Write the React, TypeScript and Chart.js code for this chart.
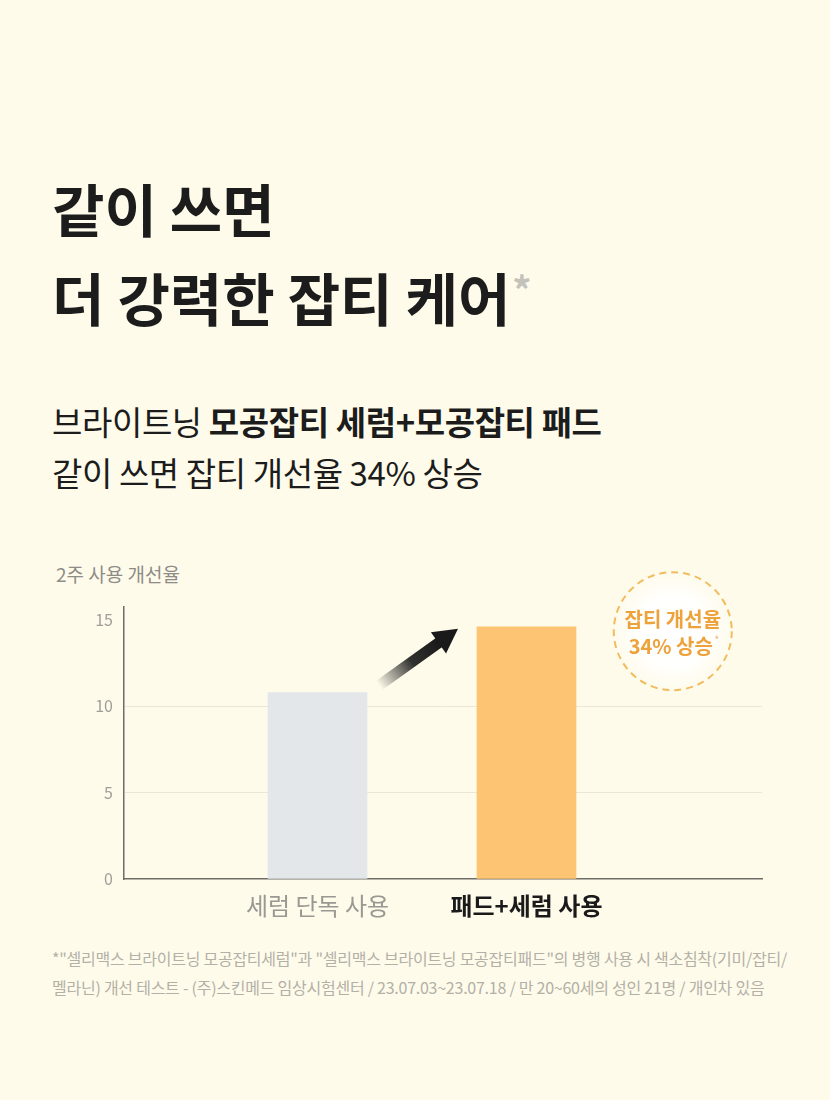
import React, { useEffect, useRef } from "react";
import { Chart, registerables } from "chart.js";

Chart.register(...registerables);

const categories: string[] = ["세럼 단독 사용", "패드+세럼 사용"];
const improvement: number[] = [10.8, 14.6];
const barColors: string[] = ["#e4e7ea", "#fcc473"];
const yTicks: number[] = [0, 5, 10, 15];
const badgeLines: string[] = ["잡티 개선율", "34% 상승"];

const FONT = '"Noto Sans CJK KR", "Noto Sans", sans-serif';
const BG = "#fefbeb";

const decorPlugin = {
  id: "decor",
  afterDatasetsDraw(chart: any) {
    const ctx = chart.ctx;
    const meta = chart.getDatasetMeta(0);
    const b0 = meta.data[0];
    const b1 = meta.data[1];
    if (!b0 || !b1) return;
    // arrow
    const x0 = b0.x + b0.width / 2 + 12;
    const y0 = b0.y - 7;
    const x1 = b1.x - b1.width / 2 - 19;
    const y1 = b1.y + 2;
    const ang = Math.atan2(y1 - y0, x1 - x0);
    const headLen = 24;
    const hx = x1 - Math.cos(ang) * headLen;
    const hy = y1 - Math.sin(ang) * headLen;
    ctx.save();
    const g = ctx.createLinearGradient(x0, y0, hx, hy);
    g.addColorStop(0, "rgba(26,26,26,0)");
    g.addColorStop(0.55, "rgba(26,26,26,0.9)");
    g.addColorStop(1, "rgba(26,26,26,1)");
    ctx.strokeStyle = g;
    ctx.lineWidth = 11;
    ctx.lineCap = "butt";
    ctx.beginPath();
    ctx.moveTo(x0, y0);
    ctx.lineTo(hx + Math.cos(ang) * 2, hy + Math.sin(ang) * 2);
    ctx.stroke();
    ctx.fillStyle = "#1a1a1a";
    const w = 13;
    ctx.beginPath();
    ctx.moveTo(x1, y1);
    ctx.lineTo(hx + Math.cos(ang + Math.PI / 2) * w, hy + Math.sin(ang + Math.PI / 2) * w);
    ctx.lineTo(hx + Math.cos(ang - Math.PI / 2) * w, hy + Math.sin(ang - Math.PI / 2) * w);
    ctx.closePath();
    ctx.fill();
    ctx.restore();

    // badge
    const xs = chart.scales.x;
    const ys = chart.scales.y;
    const cx = xs.getPixelForValue(2.7);
    const cy = ys.getPixelForValue(14.35);
    const r = 59;
    ctx.save();
    const rg = ctx.createRadialGradient(cx, cy, 0, cx, cy, r);
    rg.addColorStop(0, "rgba(255,255,255,1)");
    rg.addColorStop(0.6, "rgba(255,255,255,0.9)");
    rg.addColorStop(1, "rgba(255,253,245,0.3)");
    ctx.fillStyle = rg;
    ctx.beginPath();
    ctx.arc(cx, cy, r, 0, Math.PI * 2);
    ctx.fill();
    ctx.setLineDash([7, 5]);
    ctx.lineWidth = 2;
    ctx.strokeStyle = "#f2bc5e";
    ctx.stroke();
    ctx.setLineDash([]);
    ctx.fillStyle = "#eea23c";
    ctx.font = `700 20px ${FONT}`;
    ctx.textAlign = "center";
    ctx.textBaseline = "middle";
    ctx.fillText(badgeLines[0], cx, cy - 12);
    ctx.fillText(badgeLines[1], cx - 2, cy + 15);
    const tw = ctx.measureText(badgeLines[1]).width;
    ctx.fillStyle = "#e9b98a";
    ctx.font = `400 11px ${FONT}`;
    ctx.fillText("*", cx - 2 + tw / 2 + 4, cy + 9);
    ctx.restore();
  },
};

function BarChart() {
  const ref = useRef<HTMLCanvasElement | null>(null);
  useEffect(() => {
    if (!ref.current) return;
    const chart = new Chart(ref.current, {
      type: "bar",
      data: {
        datasets: [
          {
            data: categories.map((c, i) => ({ x: i + 1, y: improvement[i] })),
            backgroundColor: barColors,
            barThickness: 99,
            borderWidth: 0,
          },
        ],
      },
      options: {
        animation: false,
        responsive: false,
        maintainAspectRatio: false,
        layout: { padding: { left: 0, right: 68, top: 47, bottom: 0 } },
        plugins: { legend: { display: false }, tooltip: { enabled: false } },
        scales: {
          x: {
            type: "linear",
            offset: false,
            min: 0.074,
            max: 3.127,
            afterBuildTicks: (axis: any) => {
              axis.ticks = categories.map((c, i) => ({ value: i + 1 }));
            },
            afterFit: (axis: any) => {
              axis.height = 61;
            },
            grid: { display: false, drawTicks: false, offset: false },
            border: { color: "#6e6c66", width: 1.5 },
            ticks: {
              padding: 12,
              callback: (v: any) => categories[Math.round(v) - 1] ?? "",
              color: (c: any) => (c.index === 1 ? "#1a1a1a" : "#9a9892"),
              font: (c: any) => ({
                family: FONT,
                size: 24,
                weight: c.index === 1 ? 700 : 400,
              }),
            },
          },
          y: {
            min: 0,
            max: 15.75,
            afterBuildTicks: (axis: any) => {
              axis.ticks = yTicks.map((v) => ({ value: v }));
            },
            afterFit: (axis: any) => {
              axis.width = 124;
            },
            grid: {
              drawTicks: false,
              color: (c: any) =>
                c.tick && (c.tick.value === 5 || c.tick.value === 10) ? "#ebe6d6" : "rgba(0,0,0,0)",
              lineWidth: 1,
            },
            border: { color: "#6e6c66", width: 1.5 },
            ticks: {
              padding: 11,
              color: "#a09e98",
              font: { family: FONT, size: 16 },
            },
          },
        },
      },
      plugins: [decorPlugin],
    });
    return () => chart.destroy();
  }, []);
  return (
    <canvas
      ref={ref}
      width={830}
      height={380}
      style={{ position: "absolute", left: 0, top: 560, width: 830, height: 380 }}
    />
  );
}

export default function App() {
  return (
    <div
      style={{
        position: "relative",
        width: 830,
        height: 1100,
        background: BG,
        fontFamily: FONT,
        overflow: "hidden",
      }}
    >
      <style>{`body{margin:0}`}</style>
      <div
        style={{
          position: "absolute",
          left: 52,
          top: 166,
          fontSize: 57,
          fontWeight: 700,
          lineHeight: "82px",
          color: "#1c1c1c",
          whiteSpace: "nowrap",
        }}
      >
        <div>같이 쓰면</div>
        <div>
          더 강력한 잡티 케어
          <span style={{ color: "#c4c2bb", fontSize: 38, verticalAlign: 16, marginLeft: 2 }}>*</span>
        </div>
      </div>
      <div
        style={{
          position: "absolute",
          left: 52,
          top: 396,
          fontSize: 33,
          lineHeight: "51px",
          color: "#1c1c1c",
          letterSpacing: -0.4,
          whiteSpace: "nowrap",
        }}
      >
        <div>
          브라이트닝 <b style={{ fontWeight: 700 }}>모공잡티 세럼+모공잡티 패드</b>
        </div>
        <div>같이 쓰면 잡티 개선율 34% 상승</div>
      </div>
      <div
        style={{
          position: "absolute",
          left: 56,
          top: 560,
          fontSize: 19,
          color: "#8e8c86",
          whiteSpace: "nowrap",
        }}
      >
        2주 사용 개선율
      </div>
      <BarChart />
      <div
        style={{
          position: "absolute",
          left: 52,
          top: 944,
          fontSize: 16,
          lineHeight: "29px",
          color: "#b3b0a6",
          letterSpacing: -0.25,
          whiteSpace: "nowrap",
        }}
      >
        <div>*"셀리맥스 브라이트닝 모공잡티세럼"과 "셀리맥스 브라이트닝 모공잡티패드"의 병행 사용 시 색소침착(기미/잡티/</div>
        <div>멜라닌) 개선 테스트 - (주)스킨메드 임상시험센터 / 23.07.03~23.07.18 / 만 20~60세의 성인 21명 / 개인차 있음</div>
      </div>
    </div>
  );
}
